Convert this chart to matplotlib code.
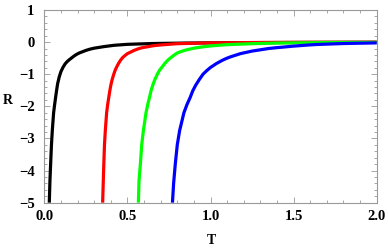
import matplotlib
matplotlib.use("Agg")
import matplotlib.pyplot as plt
from matplotlib.ticker import MultipleLocator, FormatStrFormatter

# Data
black_T = [0.030, 0.034, 0.038, 0.043, 0.048, 0.056, 0.062, 0.068, 0.074, 0.080, 0.090, 0.100,
           0.112, 0.125, 0.137, 0.150, 0.165, 0.180, 0.195, 0.210, 0.230, 0.250, 0.275, 0.300,
           0.360, 0.420, 0.500, 0.650, 0.850, 1.100, 1.500, 2.000]
black_R = [-5.0, -4.3, -3.8, -3.2, -2.76, -2.2, -1.95, -1.72, -1.5, -1.3, -1.08, -0.92,
           -0.79, -0.68, -0.61, -0.55, -0.49, -0.43, -0.38, -0.34, -0.30, -0.26, -0.22, -0.19,
           -0.14, -0.10, -0.07, -0.045, -0.03, -0.02, -0.012, -0.007]

red_T = [0.351, 0.355, 0.358, 0.362, 0.367, 0.375, 0.381, 0.388, 0.394, 0.400, 0.408, 0.418,
         0.426, 0.435, 0.446, 0.458, 0.470, 0.485, 0.500, 0.520, 0.540, 0.565, 0.585, 0.610,
         0.660, 0.710, 0.800, 1.000, 1.300, 1.600, 2.000]
red_R = [-5.0, -4.3, -3.8, -3.2, -2.76, -2.2, -1.95, -1.72, -1.52, -1.35, -1.17, -1.0,
         -0.88, -0.78, -0.67, -0.57, -0.49, -0.42, -0.36, -0.31, -0.26, -0.21, -0.18, -0.155,
         -0.11, -0.085, -0.05, -0.025, -0.012, -0.007, -0.004]

green_T = [0.566, 0.570, 0.578, 0.586, 0.596, 0.612, 0.622, 0.633, 0.642, 0.652, 0.665, 0.680,
           0.693, 0.708, 0.724, 0.742, 0.755, 0.770, 0.785, 0.800, 0.825, 0.850, 0.875, 0.900,
           0.950, 1.000, 1.050, 1.100, 1.250, 1.400, 1.700, 2.000]
green_R = [-5.0, -4.3, -3.8, -3.2, -2.76, -2.2, -1.95, -1.72, -1.52, -1.35, -1.17, -1.0,
           -0.88, -0.78, -0.67, -0.57, -0.51, -0.45, -0.39, -0.34, -0.29, -0.25, -0.22, -0.19,
           -0.15, -0.12, -0.10, -0.08, -0.05, -0.03, -0.015, -0.01]

blue_T = [0.771, 0.778, 0.788, 0.800, 0.814, 0.840, 0.858, 0.878, 0.893, 0.910, 0.932, 0.955,
          0.977, 1.000, 1.035, 1.070, 1.095, 1.120, 1.150, 1.180, 1.215, 1.250, 1.300, 1.350,
          1.395, 1.440, 1.490, 1.540, 1.590, 1.640, 1.720, 1.800, 1.900, 2.000]
blue_R = [-5.0, -4.4, -3.8, -3.2, -2.76, -2.2, -1.95, -1.72, -1.52, -1.35, -1.17, -1.0,
          -0.89, -0.79, -0.67, -0.57, -0.51, -0.46, -0.41, -0.36, -0.32, -0.28, -0.24, -0.20,
          -0.175, -0.155, -0.13, -0.11, -0.09, -0.075, -0.06, -0.045, -0.035, -0.025]

x_ticks = [0.0, 0.5, 1.0, 1.5, 2.0]
y_ticks = [1, 0, -1, -2, -3, -4, -5]

plt.rcParams['font.family'] = ['Liberation Serif', 'DejaVu Serif']
plt.rcParams['font.weight'] = 'bold'

fig = plt.figure(figsize=(3.88, 2.49), dpi=100)
ax = fig.add_axes([0.1142, 0.186, 0.9709 - 0.1142, 0.960 - 0.186])

lw = 2.3
for T, R, c in [(black_T, black_R, 'black'), (red_T, red_R, '#ff0000'),
                (green_T, green_R, '#00ff00'), (blue_T, blue_R, '#0000ff')]:
    ax.plot(T, R, color=c, lw=lw, solid_capstyle='butt', solid_joinstyle='round')

ax.set_xlim(0, 2)
ax.set_ylim(-5, 1)
ax.set_xticks(x_ticks)
ax.set_yticks(y_ticks)
ax.xaxis.set_major_formatter(FormatStrFormatter('%.1f'))
ax.xaxis.set_minor_locator(MultipleLocator(0.1))
ax.yaxis.set_minor_locator(MultipleLocator(0.2))

for s in ax.spines.values():
    s.set_color('#999999')
    s.set_linewidth(0.8)

ax.tick_params(which='both', direction='in', top=True, right=True, color='#999999', width=0.6)
ax.tick_params(which='major', length=4, labelsize=10.5)
ax.tick_params(which='minor', length=2)
ax.tick_params(axis='x', which='major', pad=5)
ax.tick_params(axis='y', which='major', pad=7)
ax.tick_params(which='both', labeltop=False, labelright=False)
for lab in ax.get_xticklabels() + ax.get_yticklabels():
    lab.set_fontweight('bold')

fig.text(8 / 388, 1 - 100 / 249, 'R', ha='center', va='center', fontsize=10, fontweight='bold')
fig.text(211 / 388, 1 - 240 / 249, 'T', ha='center', va='center', fontsize=10, fontweight='bold')

fig.savefig('out.png', dpi=100)
